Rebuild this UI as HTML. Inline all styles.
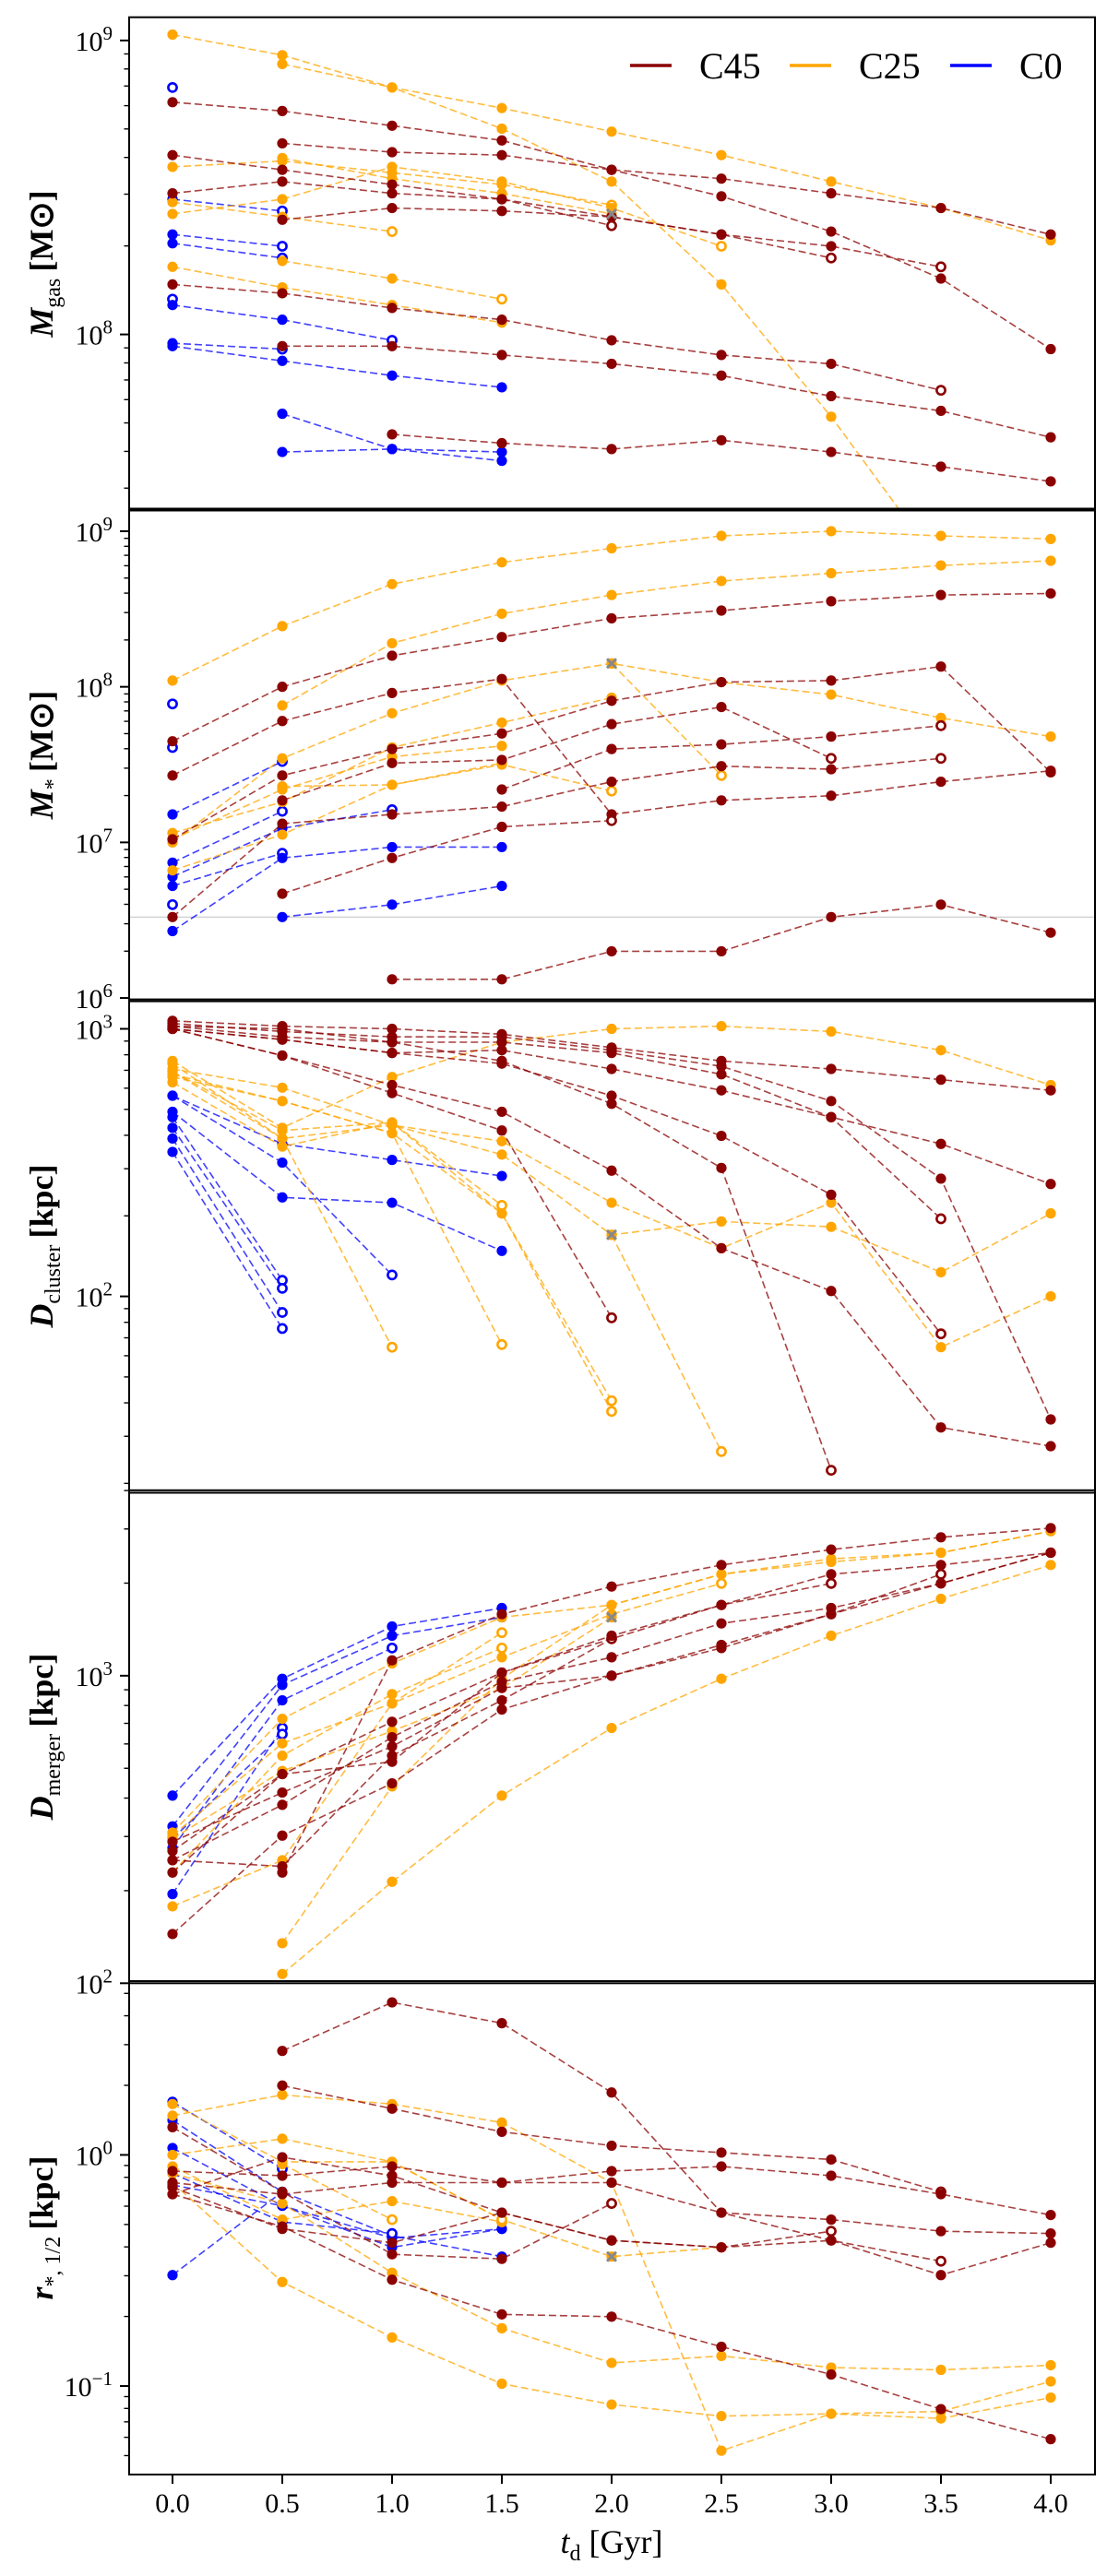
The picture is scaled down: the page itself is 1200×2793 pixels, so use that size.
<!DOCTYPE html>
<html><head><meta charset="utf-8"><style>
html,body{margin:0;padding:0;background:#fff}
svg{display:block}
text{font-family:"Liberation Serif",serif;fill:#000}
</style></head><body>
<svg id="fig" width="1200" height="2793" viewBox="0 0 1200 2793" xmlns="http://www.w3.org/2000/svg"></svg>
<script>
// ---- shared data ----
const times = [0, 0.5, 1, 1.5, 2, 2.5, 3, 3.5, 4];
const xTickLabels = ["0.0","0.5","1.0","1.5","2.0","2.5","3.0","3.5","4.0"];
const groupNames = ["C45","C25","C0"];
const n = null;

// Panel 1: log10 M_gas
const logMgasC45 = [
 [8.79,8.76,8.71,8.66,8.56,8.47,8.35,8.19,7.95],
 [n,8.65,8.62,8.61,8.56,8.53,8.48,8.43,8.34],
 [8.61,8.56,8.51,8.46,8.37,n,n,n,n],
 [8.48,8.52,8.48,8.46,8.40,8.34,8.30,8.23,n],
 [n,8.39,8.43,8.42,8.40,8.34,8.26,n,n],
 [8.17,8.14,8.09,8.05,7.98,7.93,7.90,7.81,n],
 [n,7.96,7.96,7.93,7.90,7.86,7.79,7.74,7.65],
 [n,n,7.66,7.63,7.61,7.64,7.60,7.55,7.50]];
const logMgasC45Open = [0,0,1,1,1,1,0,0];
const logMgasC25 = [
 [9.02,8.95,8.84,8.70,8.52,8.17,7.72,7.21,n],
 [n,8.92,8.84,8.77,8.69,8.61,8.52,8.43,8.32],
 [8.57,8.59,8.55,8.51,8.44,n,n,n,n],
 [8.41,8.46,8.57,8.52,8.43,8.30,n,n,n],
 [n,8.60,8.53,8.48,8.41,n,n,n,n],
 [8.45,8.40,8.35,n,n,n,n,n,n],
 [8.23,8.16,8.10,8.04,n,n,n,n,n],
 [n,8.25,8.19,8.12,n,n,n,n,n]];
const logMgasC25Open = [0,0,1,1,0,1,0,1];
const logMgasC0 = [
 [8.84,n,n,n,n,n,n,n,n],
 [8.46,8.42,n,n,n,n,n,n,n],
 [8.34,8.30,n,n,n,n,n,n,n],
 [8.31,8.26,n,n,n,n,n,n,n],
 [8.12,n,n,n,n,n,n,n,n],
 [8.10,8.05,7.98,n,n,n,n,n,n],
 [7.97,7.95,n,n,n,n,n,n,n],
 [7.96,7.91,7.86,7.82,n,n,n,n,n],
 [n,7.73,7.61,7.57,n,n,n,n,n],
 [n,7.60,7.61,7.60,n,n,n,n,n]];
const logMgasC0Open = [1,1,1,1,1,1,1,0,0,0];
const logMgasCross = 8.41;

// Panel 2: log10 M_*
const logMstarC45 = [
 [7.65,8.00,8.20,8.32,8.44,8.49,8.55,8.59,8.60],
 [7.43,7.78,7.96,8.05,7.18,7.27,7.30,7.39,7.46],
 [7.02,7.43,7.60,7.70,7.91,8.03,8.04,8.13,7.45],
 [n,7.27,7.51,7.53,7.76,7.87,7.54,n,n],
 [6.52,7.12,7.18,7.23,7.39,7.49,7.47,7.54,n],
 [n,6.67,6.90,7.10,7.14,n,n,n,n],
 [n,n,n,7.34,7.60,7.63,7.68,7.75,n],
 [n,n,6.12,6.12,6.30,6.30,6.52,6.60,6.42]];
const logMstarC45Open = [0,0,0,1,1,1,1,0];
const logMstarC25 = [
 [8.04,8.39,8.66,8.80,8.89,8.97,9.00,8.97,8.95],
 [n,7.88,8.28,8.47,8.59,8.68,8.73,8.78,8.81],
 [7.00,7.54,7.83,8.04,8.15,8.03,7.95,7.80,7.68],
 [7.06,7.26,7.61,7.77,7.93,n,n,n,n],
 [6.82,7.05,7.37,7.50,7.33,n,n,n,n],
 [7.02,7.34,7.55,7.62,n,n,n,n,n],
 [n,7.36,7.37,7.51,n,n,n,n,n],
 [n,n,n,n,8.15,7.43,n,n,n]];
const logMstarC25Open = [0,0,0,0,1,0,0,1];
const logMstarC0 = [
 [7.89,n,n,n,n,n,n,n,n],
 [7.61,n,n,n,n,n,n,n,n],
 [7.18,7.52,n,n,n,n,n,n,n],
 [6.87,7.20,n,n,n,n,n,n,n],
 [6.78,7.09,7.21,n,n,n,n,n,n],
 [6.72,6.93,n,n,n,n,n,n,n],
 [6.60,n,n,n,n,n,n,n,n],
 [6.43,6.90,6.97,6.97,n,n,n,n,n],
 [n,6.52,6.60,6.72,n,n,n,n,n]];
const logMstarC0Open = [1,1,1,1,1,1,1,0,0];
const logMstarCross = 8.15;
const logMstarThreshold = 6.52;

// Panel 3: log10 D_cluster
const logDclC45 = [
 [3.03,3.01,3.00,2.98,2.93,2.88,2.85,2.81,2.77],
 [3.02,2.99,2.97,2.97,2.92,2.86,2.73,2.44,1.54],
 [3.01,2.97,2.95,2.95,2.91,2.83,2.67,2.57,2.42],
 [3.00,2.96,2.91,2.92,2.85,2.77,2.67,2.29,n],
 [3.00,2.90,2.79,2.69,2.47,2.18,2.02,1.51,1.44],
 [3.00,2.90,2.76,2.62,1.92,n,n,n,n],
 [3.00,2.96,2.91,2.87,2.75,2.60,2.38,1.86,n],
 [3.01,3.00,2.95,2.88,2.72,2.48,1.35,n,n]];
const logDclC45Open = [0,0,0,1,0,1,1,1];
const logDclC25 = [
 [2.88,2.63,2.82,2.95,3.00,3.01,2.99,2.92,2.79],
 [2.85,2.78,2.64,2.58,2.35,2.18,2.35,1.81,2.00],
 [2.84,2.59,2.64,2.53,2.23,2.28,2.26,2.09,2.31],
 [n,n,n,n,2.23,1.42,n,n,n],
 [2.83,2.73,2.61,2.31,1.57,n,n,n,n],
 [2.80,2.56,2.65,2.34,n,n,n,n,n],
 [2.87,2.59,1.81,n,n,n,n,n,n],
 [2.82,2.73,2.61,1.82,n,n,n,n,n],
 [2.84,2.62,2.65,2.31,1.61,n,n,n,n]];
const logDclC25Open = [0,0,0,1,1,1,1,1,1];
const logDclC0 = [
 [2.75,2.57,2.51,2.45,n,n,n,n,n],
 [2.75,2.50,2.08,n,n,n,n,n,n],
 [2.69,2.37,2.35,2.17,n,n,n,n,n],
 [2.67,2.06,n,n,n,n,n,n,n],
 [2.63,2.03,n,n,n,n,n,n,n],
 [2.59,1.94,n,n,n,n,n,n,n],
 [2.54,1.88,n,n,n,n,n,n,n]];
const logDclC0Open = [0,1,0,1,1,1,1];
const logDclCross = 2.23;

// Panel 4: log10 D_merger
const logDmC45 = [
 [2.16,2.48,2.65,2.89,3.00,3.09,3.20,3.30,3.40],
 [2.36,2.68,2.85,3.01,3.12,3.23,3.33,3.36,3.40],
 [2.40,2.58,2.80,2.98,3.06,3.17,3.22,3.30,3.40],
 [2.46,2.62,2.77,2.96,3.00,3.10,3.20,3.33,n],
 [2.40,2.38,2.74,2.92,3.12,n,n,n,n],
 [n,2.36,3.05,3.20,3.29,3.36,3.41,3.45,3.48],
 [2.43,2.68,2.72,3.01,3.13,3.23,3.30,n,n]];
const logDmC45Open = [0,0,0,1,1,0,1];
const logDmC25 = [
 [n,2.03,2.33,2.61,2.83,2.99,3.13,3.25,3.36],
 [n,2.13,2.64,2.99,3.23,3.33,3.37,3.40,3.47],
 [2.25,2.40,2.91,3.14,n,n,n,n,n],
 [2.49,2.86,3.04,3.19,3.23,3.33,3.38,3.40,3.47],
 [2.36,2.74,2.94,3.09,n,n,n,n,n],
 [2.48,2.78,2.91,3.06,3.20,3.30,n,n,n],
 [2.47,2.69,2.82,2.96,3.19,n,n,n,n]];
const logDmC25Open = [0,0,1,0,1,1,0];
const logDmC0 = [
 [2.61,2.99,3.16,3.22,n,n,n,n,n],
 [2.51,2.97,3.13,3.19,n,n,n,n,n],
 [2.44,2.92,3.09,n,n,n,n,n,n],
 [2.29,2.83,n,n,n,n,n,n,n],
 [2.47,2.81,n,n,n,n,n,n,n]];
const logDmC0Open = [0,0,1,1,1];
const logDmCross = 3.19;

// Panel 5: log10 r_*,1/2
const logRC45 = [
 [n,0.45,0.66,0.57,0.27,-0.25,-0.37,-0.46,n],
 [n,0.30,0.20,0.10,0.04,0.01,-0.02,-0.16,n],
 [-0.07,-0.09,-0.05,-0.12,-0.07,-0.05,-0.09,-0.17,-0.26],
 [-0.12,-0.17,-0.12,-0.12,-0.12,-0.25,-0.28,-0.33,-0.34],
 [-0.17,-0.01,-0.09,-0.25,-0.37,-0.40,-0.33,n,n],
 [0.12,-0.16,-0.43,-0.45,-0.21,n,n,n,n],
 [-0.17,-0.31,-0.54,-0.69,-0.70,-0.83,-0.95,-1.10,-1.23],
 [-0.14,-0.32,-0.38,-0.25,-0.37,-0.40,-0.37,-0.52,-0.38]];
const logRC45Open = [1,1,0,0,1,1,0,0];
const logRC25 = [
 [0.17,0.26,0.22,0.14,-0.12,-1.28,-1.12,-1.11,-0.98],
 [0.00,0.07,-0.03,-0.28,-0.44,-0.40,n,n,n],
 [-0.05,-0.28,-0.20,-0.29,n,n,n,n,n],
 [-0.08,-0.21,-0.51,-0.75,-0.90,-0.87,-0.92,-0.93,-0.91],
 [-0.12,-0.55,-0.79,-0.99,-1.08,-1.13,-1.12,-1.14,-1.05],
 [n,-0.04,-0.28,n,n,n,n,n,n],
 [0.22,-0.03,-0.03,-0.28,n,n,n,n,n]];
const logRC25Open = [0,0,1,0,0,1,1];
const logRC0 = [
 [0.23,-0.06,n,n,n,n,n,n,n],
 [0.15,-0.16,-0.35,-0.44,n,n,n,n,n],
 [0.03,-0.22,-0.36,-0.32,n,n,n,n,n],
 [-0.13,-0.22,-0.40,-0.32,n,n,n,n,n],
 [-0.52,-0.16,n,n,n,n,n,n,n],
 [-0.08,-0.29,-0.34,n,n,n,n,n,n]];
const logRC0Open = [1,0,0,0,0,1];
const logRCross = -0.44;

// ---- layout ----
const svg = document.getElementById('fig');
const NS = 'http://www.w3.org/2000/svg';
const X0 = 140, X1 = 1187;
const colors = {C45:'#8b0000', C25:'#ffa500', C0:'#0000ff'};
function xScale(t){ return 187 + (t/4)*(1139-187); }
function mk(tag, attrs, parent){ const e=document.createElementNS(NS,tag); for(const k in attrs) e.setAttribute(k,attrs[k]); (parent||svg).appendChild(e); return e; }

const panels = [
 {key:'mgas', top:18.7, bot:553.5, ymin:7.401, ymax:9.079, majors:[8,9],
  label:[['i','M'],['sub','gas'],['n','\u2009[M\u2299]']],
  sets:[[logMgasC0,logMgasC0Open,'C0'],[logMgasC25,logMgasC25Open,'C25'],[logMgasC45,logMgasC45Open,'C45']], cross:logMgasCross, legend:true},
 {key:'mstar', top:551.5, bot:1085.6, ymin:5.979, ymax:9.145, majors:[6,7,8,9],
  label:[['i','M'],['sub','*'],['n','\u2009[M\u2299]']],
  sets:[[logMstarC0,logMstarC0Open,'C0'],[logMstarC25,logMstarC25Open,'C25'],[logMstarC45,logMstarC45Open,'C45']], cross:logMstarCross, hline:logMstarThreshold},
 {key:'dcluster', top:1083.6, bot:1618.5, ymin:1.266, ymax:3.110, majors:[2,3],
  label:[['i','D'],['sub','cluster'],['n','\u2009[kpc]']],
  sets:[[logDclC0,logDclC0Open,'C0'],[logDclC25,logDclC25Open,'C25'],[logDclC45,logDclC45Open,'C45']], cross:logDclCross},
 {key:'dmerger', top:1615.8, bot:2150.3, ymin:2.0, ymax:3.603, majors:[2,3],
  label:[['i','D'],['sub','merger'],['n','\u2009[kpc]']],
  sets:[[logDmC0,logDmC0Open,'C0'],[logDmC25,logDmC25Open,'C25'],[logDmC45,logDmC45Open,'C45']], cross:logDmCross},
 {key:'rhalf', top:2148, bot:2683, ymin:-1.383, ymax:0.752, majors:[-1,0],
  label:[['i','r'],['sub','*, 1/2'],['n','\u2009[kpc]']],
  sets:[[logRC0,logRC0Open,'C0'],[logRC25,logRC25Open,'C25'],[logRC45,logRC45Open,'C45']], cross:logRCross}
];

panels.forEach((p, pi) => {
  const y = v => p.bot - (v - p.ymin)/(p.ymax - p.ymin)*(p.bot - p.top);
  const g = mk('g', {});
  
  
  const clipId = 'clip'+pi;
  const cp = mk('clipPath', {id:clipId}, g);
  mk('rect', {x:X0, y:p.top, width:X1-X0, height:p.bot-p.top}, cp);

  if (p.hline !== undefined) {
    const hl = mk('line', {x1:X0, x2:X1, y1:y(p.hline), y2:y(p.hline), stroke:'#c8c8c8', 'stroke-width':1.2}, g);
    
    
  }

  const plot = mk('g', {'clip-path':'url(#'+clipId+')'}, g);
  p.sets.forEach(([rows, opens, grp]) => {
    const col = colors[grp];
    rows.forEach((row, ri) => {
      const pts = [];
      row.forEach((v, i) => { if (v !== null) pts.push([xScale(times[i]), y(v)]); });
      if (pts.length > 1) {
        const pl = mk('polyline', {points: pts.map(q=>q.join(',')).join(' '), fill:'none', stroke:col, 'stroke-width':1.6, 'stroke-dasharray':'8,4', opacity:0.75}, plot);
        
        
      }
      pts.forEach((q, k) => {
        const isOpen = opens[ri] && k === pts.length-1;
        const c = isOpen
          ? mk('circle', {cx:q[0], cy:q[1], r:4.6, fill:'#fff', stroke:col, 'stroke-width':2.6}, plot)
          : mk('circle', {cx:q[0], cy:q[1], r:5.6, fill:col}, plot);
        
        
      });
    });
  });
  // grey cross marker
  const cx = xScale(2), cy = y(p.cross);
  const cr = mk('path', {d:`M${cx-5},${cy-5}L${cx+5},${cy+5}M${cx-5},${cy+5}L${cx+5},${cy-5}`, stroke:'#888', 'stroke-width':3}, g);
  
  

  // frame
  const fr = mk('rect', {x:X0, y:p.top, width:X1-X0, height:p.bot-p.top, fill:'none', stroke:'#000', 'stroke-width':2}, g);
  
  

  // y ticks
  const tg = mk('g', {}, g);
  
  
  for (let d = Math.floor(p.ymin)-1; d <= Math.ceil(p.ymax); d++) {
    for (let m = 1; m <= 9; m++) {
      const v = d + Math.log10(m);
      if (v < p.ymin - 0.005 || v > p.ymax + 0.005) continue;
      const yy = y(v);
      mk('line', {x1:X0 - (m===1?10:5.5), x2:X0, y1:yy, y2:yy, stroke:'#000', 'stroke-width':m===1?2:1.4}, tg);
    }
  }
  p.majors.forEach(e => {
    const yy = y(e);
    const t = mk('text', {x:122, y:yy+11, 'text-anchor':'end', 'font-size':30}, tg);
    
    
    const a = document.createElementNS(NS,'tspan'); a.textContent='10'; t.appendChild(a);
    const b = document.createElementNS(NS,'tspan'); b.setAttribute('dy','-12'); b.setAttribute('font-size','21'); b.textContent = e<0 ? '\u2212'+(-e) : String(e); t.appendChild(b);
  });

  // y label
  const cyl = (p.top + p.bot)/2;
  const yl = mk('text', {x:0, y:0, transform:`translate(57,${cyl}) rotate(-90)`, 'text-anchor':'middle', 'font-size':36}, g);
  
  
  p.label.forEach(([kind, txt]) => {
    const s = document.createElementNS(NS,'tspan');
    s.textContent = txt;
    if (kind==='i') { s.setAttribute('font-style','italic'); s.setAttribute('font-weight','bold'); }
    if (kind==='sub') { s.setAttribute('font-size','24'); s.setAttribute('dy','8'); }
    if (kind==='n') { s.setAttribute('dy','-8'); s.setAttribute('font-weight','bold'); }
    yl.appendChild(s);
  });

  if (p.legend) {
    const lg = mk('g', {}, g);
    
    
    const lx = [683, 856, 1030];
    groupNames.forEach((nm, i) => {
      const e = mk('g', {}, lg);
      
      
      mk('line', {x1:lx[i], x2:lx[i]+45, y1:71, y2:71, stroke:colors[nm], 'stroke-width':3.5}, e);
      const t = mk('text', {x:lx[i]+75, y:85, 'font-size':40}, e);
      t.textContent = nm;
    });
  }
});

// x axis
const xg = mk('g', {});


times.forEach((t, i) => {
  const xx = xScale(t);
  mk('line', {x1:xx, x2:xx, y1:2683, y2:2693, stroke:'#000', 'stroke-width':2}, xg);
  const tl = mk('text', {x:xx, y:2724, 'text-anchor':'middle', 'font-size':30}, xg);
  
  
  tl.textContent = xTickLabels[i];
});
const xt = mk('text', {x:663, y:2768, 'text-anchor':'middle', 'font-size':36}, xg);


const xa = document.createElementNS(NS,'tspan'); xa.setAttribute('font-style','italic'); xa.textContent='t'; xt.appendChild(xa);
const xb = document.createElementNS(NS,'tspan'); xb.setAttribute('font-size','24'); xb.setAttribute('dy','8'); xb.textContent='d'; xt.appendChild(xb);
const xc = document.createElementNS(NS,'tspan'); xc.setAttribute('dy','-8'); xc.textContent=' [Gyr]'; xt.appendChild(xc);
</script>
</body></html>
